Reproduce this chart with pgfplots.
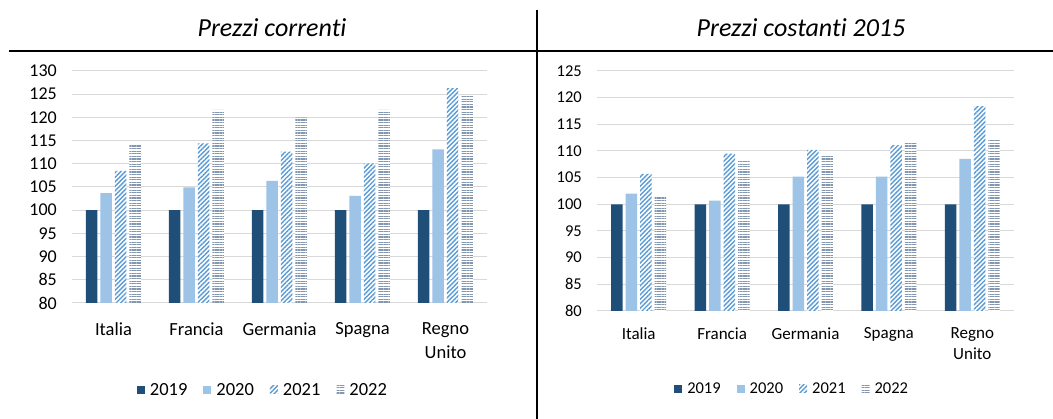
\documentclass[border=0pt]{standalone}
\usepackage{fontspec}
\setmainfont{Carlito}[Ligatures=NoCommon]
\usepackage{pgfplots}
\usepackage{pgfplotstable}
\pgfplotsset{compat=1.18}
\usetikzlibrary{patterns.meta}

\definecolor{c19}{HTML}{1F4E79}
\definecolor{c20}{HTML}{9DC3E6}
\definecolor{c21}{HTML}{5B9BD5}
\definecolor{c22}{HTML}{8497B0}
\definecolor{gridc}{HTML}{D9D9D9}

% prezzi correnti (2019 = 100)
\pgfplotstableread{
x  a    b     c     d
0  100  103.7 108.5 114.0
1  100  104.9 114.4 121.6
2  100  106.3 112.6 120.0
3  100  103.1 110.1 121.6
4  100  113.1 126.3 124.8
}\correnti
% prezzi costanti 2015 (2019 = 100)
\pgfplotstableread{
x  a    b     c     d
0  100  102.0 105.7 101.4
1  100  100.7 109.5 108.2
2  100  105.2 110.2 109.1
3  100  105.2 111.1 111.7
4  100  108.5 118.4 112.2
}\costanti

\pgfplotsset{
  panel/.style={
    scale only axis,
    ybar, bar width=11.5pt,
    xmin=-0.5, xmax=4.5,
    xtick={0,...,4},
    xticklabels={Italia,Francia,Germania,Spagna,{Regno\\Unito}},
    axis line style={draw=none},
    tick style={draw=none},
    ymajorgrids, major grid style={gridc, line width=1pt},
    yticklabel style={anchor=east, inner sep=0pt, xshift=-15pt},
    /pgf/number format/assume math mode=true,
    legend columns=-1,
    legend style={draw=none, fill=none, anchor=center,
      /tikz/every odd column/.append style={column sep=3pt},
      /tikz/every even column/.append style={column sep=14pt}},
    legend image code/.code={\draw[##1, draw=none] (0pt,-4pt) rectangle (8pt,4pt);},
  },
  s19/.style={fill=c19, draw=none, bar shift=-21.75pt},
  s20/.style={fill=c20, draw=none, bar shift=-7.25pt},
  s21/.style={fill=white, draw=none, bar shift=7.25pt,
    postaction={pattern={Lines[angle=45,distance=3.2pt,line width=1.4pt]}, pattern color=c21}},
  s22/.style={fill=white, draw=none, bar shift=21.75pt,
    postaction={pattern={Lines[angle=0,distance=2.6pt,line width=1.3pt]}, pattern color=c22}},
}

\begin{document}
\begin{tikzpicture}[x=1pt,y=1pt]
\useasboundingbox (0,0) rectangle (1053,419);
\draw[line width=1.8pt] (9,368) -- (1053,368);
\draw[line width=1.8pt] (537,409) -- (537,0);
\node[font=\fontsize{26}{30}\selectfont\itshape] at (272,391) {Prezzi correnti};
\node[font=\fontsize{26}{30}\selectfont\itshape] at (801,391) {Prezzi costanti 2015};

\begin{axis}[panel,
  at={(72pt,116pt)}, anchor=south west, width=415pt, height=232pt,
  ymin=80, ymax=130, ytick={80,85,...,130},
  yticklabel style={font=\fontsize{18}{20}\selectfont},
  xticklabel style={align=center, anchor=north, inner sep=0pt, yshift=-15pt,
    font=\fontsize{18.5}{24}\selectfont},
  legend style={at={(axis description cs:0.46,-0.375)},
    font=\fontsize{18.5}{20}\selectfont},
]
  \addplot[s19] table[x=x, y=a] {\correnti};
  \addplot[s20] table[x=x, y=b] {\correnti};
  \addplot[s21] table[x=x, y=c] {\correnti};
  \addplot[s22] table[x=x, y=d] {\correnti};
  \legend{2019,2020,2021,2022}
\end{axis}

\begin{axis}[panel,
  at={(597pt,108pt)}, anchor=south west, width=417pt, height=240pt,
  ymin=80, ymax=125, ytick={80,85,...,125},
  yticklabel style={font=\fontsize{16.5}{19}\selectfont},
  xticklabel style={align=center, anchor=north, inner sep=0pt, yshift=-12pt,
    font=\fontsize{17}{21}\selectfont},
  legend style={at={(axis description cs:0.468,-0.325)},
    font=\fontsize{16.5}{19}\selectfont},
]
  \addplot[s19] table[x=x, y=a] {\costanti};
  \addplot[s20] table[x=x, y=b] {\costanti};
  \addplot[s21] table[x=x, y=c] {\costanti};
  \addplot[s22] table[x=x, y=d] {\costanti};
  \legend{2019,2020,2021,2022}
\end{axis}
\end{tikzpicture}
\end{document}
